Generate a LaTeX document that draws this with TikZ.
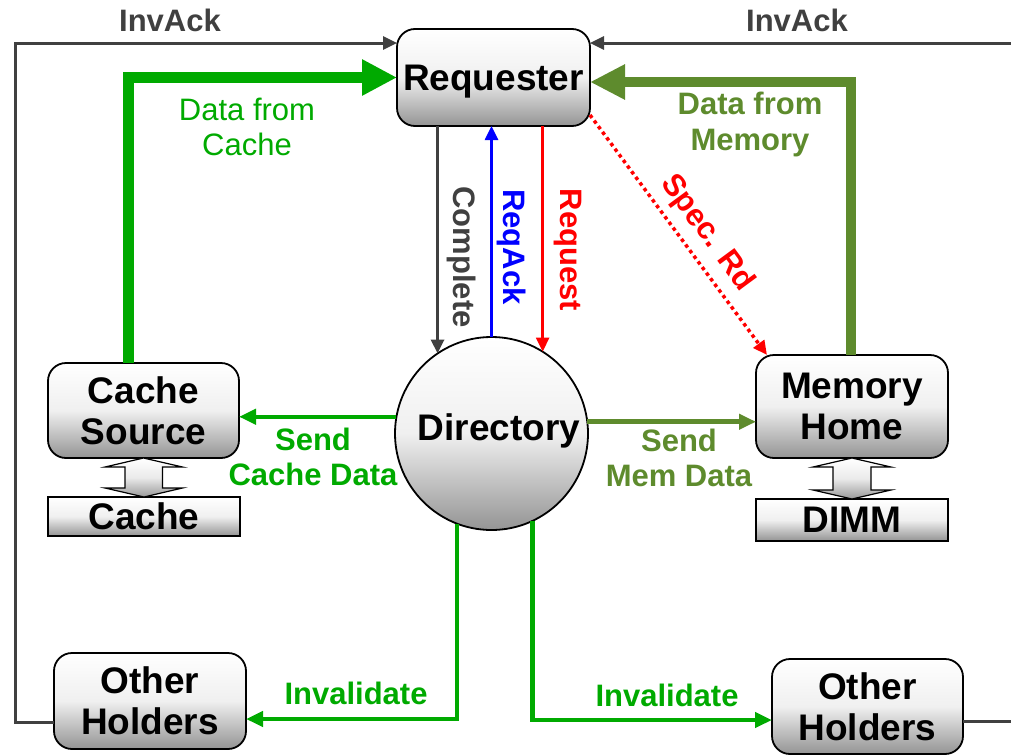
\documentclass[tikz,border=0pt]{standalone}
\usepackage{fontspec}
\setmainfont{Liberation Sans}
\usetikzlibrary{arrows.meta,calc}
\definecolor{inkgray}{HTML}{404040}
\definecolor{cachegreen}{HTML}{00AA00}
\definecolor{memolive}{HTML}{5E8B2D}

\begin{document}
\begin{tikzpicture}[x=1pt,y=-1pt,
  unit/.style={draw=black, line width=1.8pt, inner sep=0pt, outer sep=0pt,
    align=center, text=black, font=\bfseries\fontsize{37}{41}\selectfont,
    top color=white, bottom color=black!42, middle color=black!6},
  roundbox/.style={unit, rectangle, rounded corners=18pt},
  flatbox/.style={unit, rectangle},
  lbl/.style={font=\bfseries\fontsize{31}{35}\selectfont, inner sep=0pt, align=center},
  msgarrow/.style={line width=3pt, -{Triangle[length=14pt,width=13pt]}},
  midarrow/.style={line width=4.5pt, -{Triangle[length=17pt,width=15pt]}},
  bigarrow/.style={line width=11pt, line join=miter, -{Triangle[length=35pt,width=34pt]}},
  blockarrow/.style={draw=black, line width=1.2pt, top color=white, bottom color=black!40, middle color=black!8},
]
\useasboundingbox (0,0) rectangle (1011,755);

% ---- agents ----
\node[roundbox, minimum width=193pt, minimum height=97pt, text depth=0pt] (req) at (493.5,77.5) {Requester};
\node[unit, circle, minimum size=193pt] (dir) at (491.5,433.5) {};
\node[font=\bfseries\fontsize{37}{41}\selectfont, inner sep=0pt, text depth=0pt] (dirtext) at (499,427) {Directory};
\node[roundbox, minimum width=191pt, minimum height=95pt] (cs) at (143.5,410.5) {Cache\\Source};
\node[flatbox, minimum width=192pt, minimum height=39pt] (cache) at (144,516.5) {Cache};
\node[roundbox, minimum width=192pt, minimum height=103pt] (mh) at (852,406.5) {Memory\\Home};
\node[flatbox, minimum width=192pt, minimum height=42pt] (dimm) at (852,520) {DIMM};
\node[roundbox, minimum width=192pt, minimum height=96pt] (ohl) at (150,701) {Other\\Holders};
\node[roundbox, minimum width=191pt, minimum height=95pt] (ohr) at (867.5,706.5) {Other\\Holders};

% ---- two-way links to the storage arrays ----
\path[blockarrow] (cs.south) -- ++(39,9) -- ++(-20,0) -- ++(0,21) -- ++(20,0)
  -- (cache.north) -- ++(-39,-9) -- ++(20,0) -- ++(0,-21) -- ++(-20,0) -- cycle;
\path[blockarrow] (mh.south) -- ++(39,9) -- ++(-20,0) -- ++(0,23) -- ++(20,0)
  -- (dimm.north) -- ++(-39,-9) -- ++(20,0) -- ++(0,-23) -- ++(-20,0) -- cycle;

% ---- invalidation acknowledgements ----
\coordinate (la) at (15,43);
\coordinate (ra) at (1030,43);
\draw[msgarrow, inkgray] ([yshift=-21pt]ohl.west) -| (la) -- (la -| req.west);
\draw[msgarrow, inkgray] ([yshift=-15pt]ohr.east) -| (ra) -- (ra -| req.east);
\node[lbl, text=inkgray] (ackl) at (170,20) {InvAck};
\node[lbl, text=inkgray] (ackr) at (797,20) {InvAck};

% ---- data returns ----
\draw[bigarrow, cachegreen] ([xshift=-15.5pt]cs.north) |- (req.west);
\draw[bigarrow, memolive, line width=10pt, -{Triangle[length=35pt,width=33pt]}]
  ([xshift=-1pt]mh.north) |- ([yshift=-4.5pt]req.east);
\node[lbl, font=\fontsize{31}{35}\selectfont, text=cachegreen] (dfc) at (247,127) {Data from\\Cache};
\node[lbl, font=\bfseries\fontsize{31}{36}\selectfont, text=memolive] (dfm) at (750,124) {Data from\\Memory};

% ---- requester <-> directory ----
\draw[msgarrow, inkgray] (req.south -| dir.124.4) -- (dir.124.4);
\draw[msgarrow, blue, line width=2.6pt] (dir.north) -- (req.south -| dir.north);
\draw[msgarrow, red, line width=2.6pt] (req.south -| dir.58.4) -- (dir.58.4);
\node[lbl, text=inkgray, rotate=-90] (lcomp) at (462,257) {Complete};
\node[lbl, text=blue, rotate=-90] (lrack) at (512,247) {ReqAck};
\node[lbl, text=red, rotate=-90] (lreq) at (568,250) {Request};

% ---- speculative read ----
\draw[msgarrow, red, line width=3.5pt, dash pattern=on 3.5pt off 3.5pt]
  ([yshift=11pt]req.south east) -- ([xshift=11pt]mh.north west);
\node[lbl, text=red, rotate=-53.6] (lspec) at (707,233) {Spec. Rd};

% ---- directory forwards ----
\draw[midarrow, cachegreen] (dir.170.8) -- (dir.170.8 -| cs.east);
\draw[midarrow, memolive] (dir.7.4) -- (dir.7.4 -| mh.west);
\node[lbl, text=cachegreen] (lscd) at (313,457) {Send\\Cache Data};
\node[lbl, text=memolive] (lsmd) at (679,458) {Send\\Mem Data};

% ---- invalidations ----
\draw[midarrow, cachegreen] (dir.-111) |- ([yshift=-18pt]ohl.east);
\draw[midarrow, cachegreen] (dir.-65.2) |- ([yshift=-13.5pt]ohr.west);
\node[lbl, text=cachegreen] (linvl) at (356,693) {Invalidate};
\node[lbl, text=cachegreen] (linvr) at (667,695) {Invalidate};
\end{tikzpicture}
\end{document}
